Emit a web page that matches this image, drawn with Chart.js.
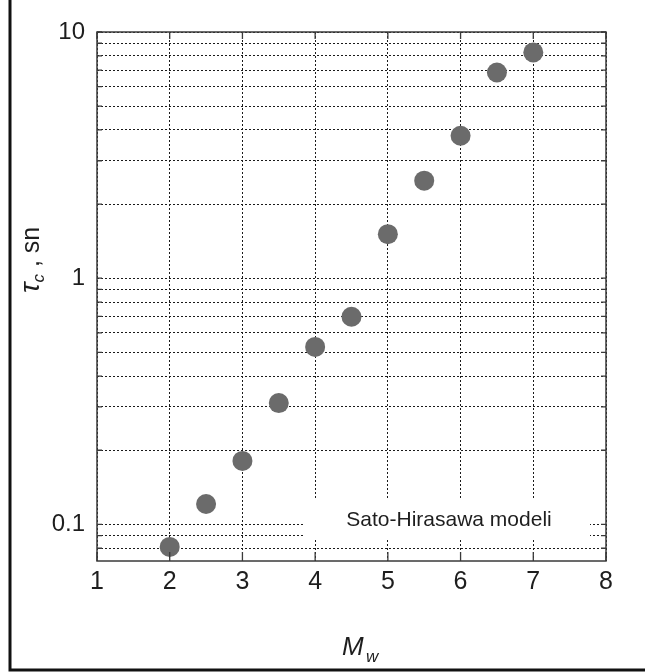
<!DOCTYPE html>
<html><head><meta charset="utf-8">
<script src="https://cdn.jsdelivr.net/npm/chart.js@4.4.0/dist/chart.umd.min.js"></script>
<style>html,body{margin:0;padding:0;background:#fff}#wrap{width:645px;height:672px;position:relative}</style>
</head><body><div id="wrap"><canvas id="c" width="645" height="672"></canvas></div>
<script>
// ---- data ----
const magnitudes = [2, 2.5, 3, 3.5, 4, 4.5, 5, 5.5, 6, 6.5, 7];
const tauC = [0.081, 0.121, 0.181, 0.311, 0.526, 0.697, 1.51, 2.49, 3.79, 6.85, 8.26];
const xTicks = [1, 2, 3, 4, 5, 6, 7, 8];
const yGridValues = [0.08, 0.09, 0.1, 0.2, 0.3, 0.4, 0.5, 0.6, 0.7, 0.8, 0.9, 1, 2, 3, 4, 5, 6, 7, 8, 9, 10];
const yTickLabels = ['0.1', '1', '10'];
const legendLabel = 'Sato-Hirasawa modeli';

const FONT = "'Liberation Sans', Arial, sans-serif";

const decorPlugin = {
  id: 'decor',
  afterDraw(chart) {
    const ctx = chart.ctx;
    const a = chart.chartArea;
    const xs = chart.scales.x, ys = chart.scales.y;
    ctx.save();
    // legend box
    ctx.fillStyle = '#fff';
    ctx.fillRect(305, 498, 285, 42);
    ctx.fillStyle = '#1e1e1e';
    ctx.font = '21px ' + FONT;
    ctx.textAlign = 'center';
    ctx.textBaseline = 'middle';
    ctx.fillText(legendLabel, 449, 520);

    // plot frame
    ctx.strokeStyle = '#3a3a3a';
    ctx.lineWidth = 1.5;
    ctx.setLineDash([]);
    ctx.strokeRect(a.left, a.top, a.right - a.left, a.bottom - a.top);
    // inner ticks
    ctx.lineWidth = 1.3;
    ctx.beginPath();
    yGridValues.forEach(v => {
      const y = ys.getPixelForValue(v);
      ctx.moveTo(a.left, y); ctx.lineTo(a.left + 5, y);
      ctx.moveTo(a.right, y); ctx.lineTo(a.right - 5, y);
    });
    xTicks.forEach(v => {
      const x = xs.getPixelForValue(v);
      ctx.moveTo(x, a.bottom); ctx.lineTo(x, a.bottom - 9);
      ctx.moveTo(x, a.top); ctx.lineTo(x, a.top + 7);
    });
    ctx.stroke();

    // outer figure border (left + bottom)
    ctx.strokeStyle = '#111';
    ctx.lineWidth = 3;
    ctx.beginPath();
    ctx.moveTo(10, 0); ctx.lineTo(10, 670);
    ctx.lineTo(645, 670);
    ctx.stroke();

    // x axis title: M_w
    ctx.fillStyle = '#1e1e1e';
    ctx.textAlign = 'left';
    ctx.textBaseline = 'alphabetic';
    ctx.font = 'italic 26px ' + FONT;
    ctx.fillText('M', 342, 655);
    ctx.font = 'italic 17px ' + FONT;
    ctx.fillText('w', 366, 662);

    // y axis title: tau_c , sn (rotated)
    ctx.translate(39, 293);
    ctx.rotate(-Math.PI / 2);
    ctx.font = 'italic 28px ' + FONT;
    ctx.fillText('τ', 0, 0);
    let w = ctx.measureText('τ').width;
    ctx.font = 'italic 17px ' + FONT;
    ctx.fillText('c', w, 5);
    w += ctx.measureText('c').width;
    ctx.font = '25px ' + FONT;
    ctx.fillText(' , sn', w, 0);
    ctx.restore();
  }
};

new Chart(document.getElementById('c'), {
  type: 'scatter',
  data: {
    datasets: [{
      label: legendLabel,
      data: magnitudes.map((m, i) => ({ x: m, y: tauC[i] })),
      backgroundColor: '#6b6b6b',
      borderColor: '#6b6b6b',
      borderWidth: 0,
      pointRadius: 10,
      pointHoverRadius: 10
    }]
  },
  options: {
    responsive: false,
    devicePixelRatio: 1,
    animation: false,
    layout: { padding: { top: 32, right: 39, left: 0, bottom: 0 } },
    plugins: { legend: { display: false }, tooltip: { enabled: false } },
    scales: {
      x: {
        type: 'linear', min: 1, max: 8,
        afterBuildTicks: s => { s.ticks = xTicks.map(v => ({ value: v })); },
        afterFit: s => { s.height = 111; },
        grid: { color: '#1a1a1a', lineWidth: 1, drawTicks: false },
        border: { display: false, dash: [2, 2] },
        ticks: { font: { size: 25, family: FONT }, color: '#1e1e1e', padding: 6, autoSkip: false, maxRotation: 0 }
      },
      y: {
        type: 'logarithmic', min: 0.071, max: 10,
        afterBuildTicks: s => { s.ticks = yGridValues.map(v => ({ value: v })); },
        afterFit: s => { s.width = 97; },
        grid: { color: '#1a1a1a', lineWidth: 1, drawTicks: false },
        border: { display: false, dash: [2, 2] },
        ticks: {
          font: { size: 24, family: FONT }, color: '#1e1e1e', padding: 12, autoSkip: false,
          callback: v => yTickLabels.includes(String(v)) ? String(v) : ''
        }
      }
    }
  },
  plugins: [decorPlugin]
});
</script>
</body></html>
